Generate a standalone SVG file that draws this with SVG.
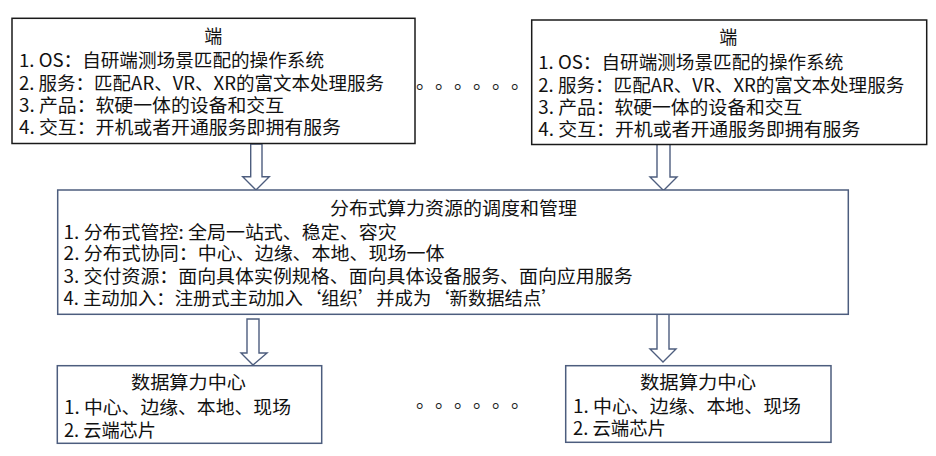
<svg xmlns="http://www.w3.org/2000/svg" width="936" height="456" viewBox="0 0 936 456">
<style>
  text { font-family: "Noto Sans CJK SC", "Liberation Sans", sans-serif; font-size: 18px; fill: #111; }
  .t { text-anchor: start; }
  .boxk { fill: #fff; stroke: #1a1a1a; stroke-width: 1.5; }
  .boxb { fill: #fff; stroke: #4d5d7e; stroke-width: 1.5; }
  .arr { fill: #fff; stroke: #4d5d7e; stroke-width: 1.4; stroke-linejoin: miter; }
  .dots { font-size: 19px; fill: #222; }
</style>
<rect width="936" height="456" fill="#fff"/>

<g id="connectors">
  <polygon class="arr" points="250.7,144 262,144 262,176.7 269.3,176.7 256,190 242.7,176.7 250.7,176.7"/>
  <polygon class="arr" points="657,144 670,144 670,177 677,177 663.5,190.5 650,177 657,177"/>
  <polygon class="arr" points="247,319 259,319 259,353 267,353 253,365 241,353 247,353"/>
  <polygon class="arr" points="657,314 669,314 669,349 676,349 663,362 650,349 657,349"/>
</g>

<g id="end-left">
  <rect class="boxk" x="12" y="18.3" width="403" height="125.2"/>
  <text x="213.3" y="43.3" text-anchor="middle">端</text>
  <text class="t" x="19" y="67" textLength="305" lengthAdjust="spacingAndGlyphs">1. OS：自研端测场景匹配的操作系统</text>
  <text class="t" x="19" y="89.7" textLength="365" lengthAdjust="spacingAndGlyphs">2. 服务：匹配AR、VR、XR的富文本处理服务</text>
  <text class="t" x="19" y="112" textLength="265" lengthAdjust="spacingAndGlyphs">3. 产品：软硬一体的设备和交互</text>
  <text class="t" x="19" y="134.3" textLength="322" lengthAdjust="spacingAndGlyphs">4. 交互：开机或者开通服务即拥有服务</text>
</g>

<g id="end-right">
  <rect class="boxk" x="531.7" y="20" width="395" height="124.5"/>
  <text x="728.3" y="43.7" text-anchor="middle">端</text>
  <text class="t" x="538.3" y="68.7" textLength="305" lengthAdjust="spacingAndGlyphs">1. OS：自研端测场景匹配的操作系统</text>
  <text class="t" x="538.3" y="92" textLength="366" lengthAdjust="spacingAndGlyphs">2. 服务：匹配AR、VR、XR的富文本处理服务</text>
  <text class="t" x="538.3" y="113.7" textLength="264" lengthAdjust="spacingAndGlyphs">3. 产品：软硬一体的设备和交互</text>
  <text class="t" x="538.3" y="136.3" textLength="322" lengthAdjust="spacingAndGlyphs">4. 交互：开机或者开通服务即拥有服务</text>
</g>

<text class="dots" x="416 435 454 473 492 511" y="89">。。。。。。</text>

<g id="scheduling">
  <rect class="boxb" x="57.7" y="190" width="790.6" height="124.3"/>
  <text class="t" x="330" y="214.7" textLength="247" lengthAdjust="spacingAndGlyphs">分布式算力资源的调度和管理</text>
  <text class="t" x="63.6" y="238.7" textLength="333" lengthAdjust="spacingAndGlyphs">1. 分布式管控: 全局一站式、稳定、容灾</text>
  <text class="t" x="63.6" y="260.3" textLength="381" lengthAdjust="spacingAndGlyphs">2. 分布式协同：中心、边缘、本地、现场一体</text>
  <text class="t" x="63.6" y="283" textLength="569" lengthAdjust="spacingAndGlyphs">3. 交付资源：面向具体实例规格、面向具体设备服务、面向应用服务</text>
  <text class="t" x="63.6" y="305.3" textLength="496" lengthAdjust="spacingAndGlyphs">4. 主动加入：注册式主动加入‘组织’并成为‘新数据结点’</text>
</g>

<g id="datacenter-left">
  <rect class="boxb" x="57.3" y="365.7" width="264.4" height="77.6"/>
  <text class="t" x="131" y="388.7" textLength="115" lengthAdjust="spacingAndGlyphs">数据算力中心</text>
  <text class="t" x="64" y="413.7" textLength="227" lengthAdjust="spacingAndGlyphs">1. 中心、边缘、本地、现场</text>
  <text class="t" x="64" y="437" textLength="92" lengthAdjust="spacingAndGlyphs">2. 云端芯片</text>
</g>

<text class="dots" x="416 435 454 473 492 511" y="408">。。。。。。</text>

<g id="datacenter-right">
  <rect class="boxb" x="565.7" y="365.7" width="265.3" height="76.6"/>
  <text class="t" x="640" y="388.7" textLength="116" lengthAdjust="spacingAndGlyphs">数据算力中心</text>
  <text class="t" x="573" y="413" textLength="228" lengthAdjust="spacingAndGlyphs">1. 中心、边缘、本地、现场</text>
  <text class="t" x="573" y="435.3" textLength="93" lengthAdjust="spacingAndGlyphs">2. 云端芯片</text>
</g>
</svg>
